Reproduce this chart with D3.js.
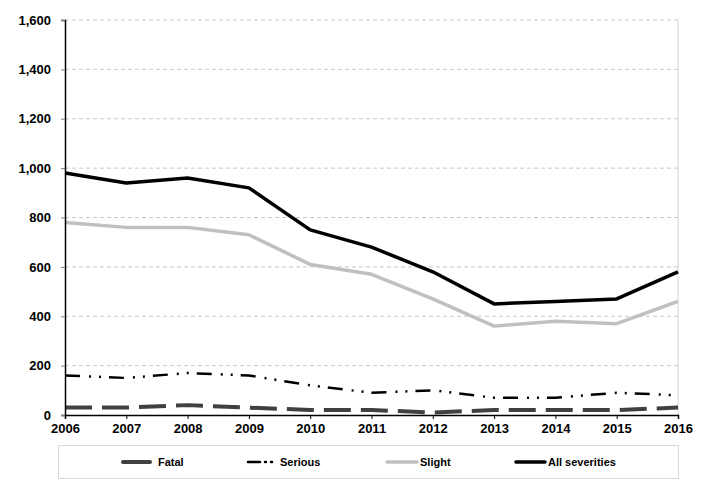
<!DOCTYPE html>
<html>
<head>
<meta charset="utf-8">
<script src="https://cdn.jsdelivr.net/npm/d3@7"></script>
<style>
  body { margin: 0; background: #fff; }
  svg { display: block; font-family: "Liberation Sans", Arial, sans-serif; font-weight: bold; }
</style>
</head>
<body>
<div id="chart"></div>
<script>
// years along the x axis
const years = [2006, 2007, 2008, 2009, 2010, 2011, 2012, 2013, 2014, 2015, 2016];
// casualties by severity
const fatal = [30, 30, 40, 30, 20, 20, 10, 20, 20, 20, 30];
const serious = [160, 150, 170, 160, 120, 90, 100, 70, 70, 90, 80];
const slight = [780, 760, 760, 730, 610, 570, 470, 360, 380, 370, 460];
const allSeverities = [980, 940, 960, 920, 750, 680, 580, 450, 460, 470, 580];
const yTicks = [0, 200, 400, 600, 800, 1000, 1200, 1400, 1600];
const seriesNames = ['Fatal', 'Serious', 'Slight', 'All severities'];

const width = 711, height = 497;
const margin = { top: 20, right: 33, bottom: 82, left: 65 };

const svg = d3.select('#chart').append('svg')
  .attr('width', width)
  .attr('height', height);

const x = d3.scaleLinear()
  .domain([years[0], years[years.length - 1]])
  .range([margin.left, width - margin.right]);

const y = d3.scaleLinear()
  .domain([0, 1600])
  .range([height - margin.bottom, margin.top]);

// gridlines
svg.append('g')
  .selectAll('line')
  .data(yTicks.filter(d => d > 0))
  .enter().append('line')
  .attr('x1', margin.left)
  .attr('x2', width - margin.right)
  .attr('y1', d => y(d))
  .attr('y2', d => y(d))
  .attr('stroke', '#c8c8c8')
  .attr('stroke-dasharray', '4,3');

// right border of plot area
svg.append('line')
  .attr('x1', width - margin.right).attr('x2', width - margin.right)
  .attr('y1', y(1600)).attr('y2', y(0))
  .attr('stroke', '#d4d4d4');

// series styles
const styles = [
  { data: fatal, color: '#404040', w: 4, dash: '27,10' },
  { data: serious, color: '#000', w: 2.5, dash: '15,9,2,8,2,8' },
  { data: slight, color: '#c0c0c0', w: 3.5, dash: null },
  { data: allSeverities, color: '#000', w: 3.5, dash: null }
];

const line = d3.line()
  .x((d, i) => x(years[i]))
  .y(d => y(d));

// draw from back to front: slight, all, serious, fatal
[2, 3, 1, 0].forEach(k => {
  const s = styles[k];
  svg.append('path')
    .datum(s.data)
    .attr('d', line)
    .attr('fill', 'none')
    .attr('stroke', s.color)
    .attr('stroke-width', s.w)
    .attr('stroke-dasharray', s.dash)
    .attr('stroke-linejoin', 'round');
});

// y axis
const yAxis = svg.append('g')
  .attr('transform', `translate(${margin.left},0)`)
  .call(d3.axisLeft(y).tickValues(yTicks).tickSize(4).tickPadding(10)
    .tickFormat(d3.format(',')));
yAxis.select('.domain').attr('stroke', '#000').attr('stroke-width', 1.5);
yAxis.selectAll('.tick line').attr('stroke', '#808080');
yAxis.selectAll('text').style('font-size', '13px').attr('fill', '#000');

// x axis
const xAxis = svg.append('g')
  .attr('transform', `translate(0,${y(0)})`)
  .call(d3.axisBottom(x).tickValues(years).tickSize(4).tickPadding(5)
    .tickFormat(d3.format('d')));
xAxis.select('.domain').attr('stroke', '#000').attr('stroke-width', 1.5);
xAxis.selectAll('.tick line').attr('stroke', '#000');
xAxis.selectAll('text').style('font-size', '13px').attr('fill', '#000');

// legend
const legend = svg.append('g');
legend.append('rect')
  .attr('x', 58.5).attr('y', 445.5)
  .attr('width', 620).attr('height', 33)
  .attr('fill', '#fff')
  .attr('stroke', '#d9d9d9');

const legendX = [123, 248, 387, 516];
const legendLen = [27, 24, 30, 29];
seriesNames.forEach((name, i) => {
  const s = styles[i];
  const g = legend.append('g').attr('transform', `translate(${legendX[i]},462)`);
  g.append('line')
    .attr('x1', 0).attr('x2', legendLen[i])
    .attr('stroke', s.color)
    .attr('stroke-width', s.w)
    .attr('stroke-linecap', 'round')
    .attr('stroke-dasharray', i === 1 ? '12,5,1,5' : null);
  g.append('text')
    .attr('x', legendLen[i] + (i === 0 || i === 1 ? 8 : 3))
    .attr('dy', '0.35em')
    .style('font-size', '11px')
    .text(name);
});
</script>
</body>
</html>
